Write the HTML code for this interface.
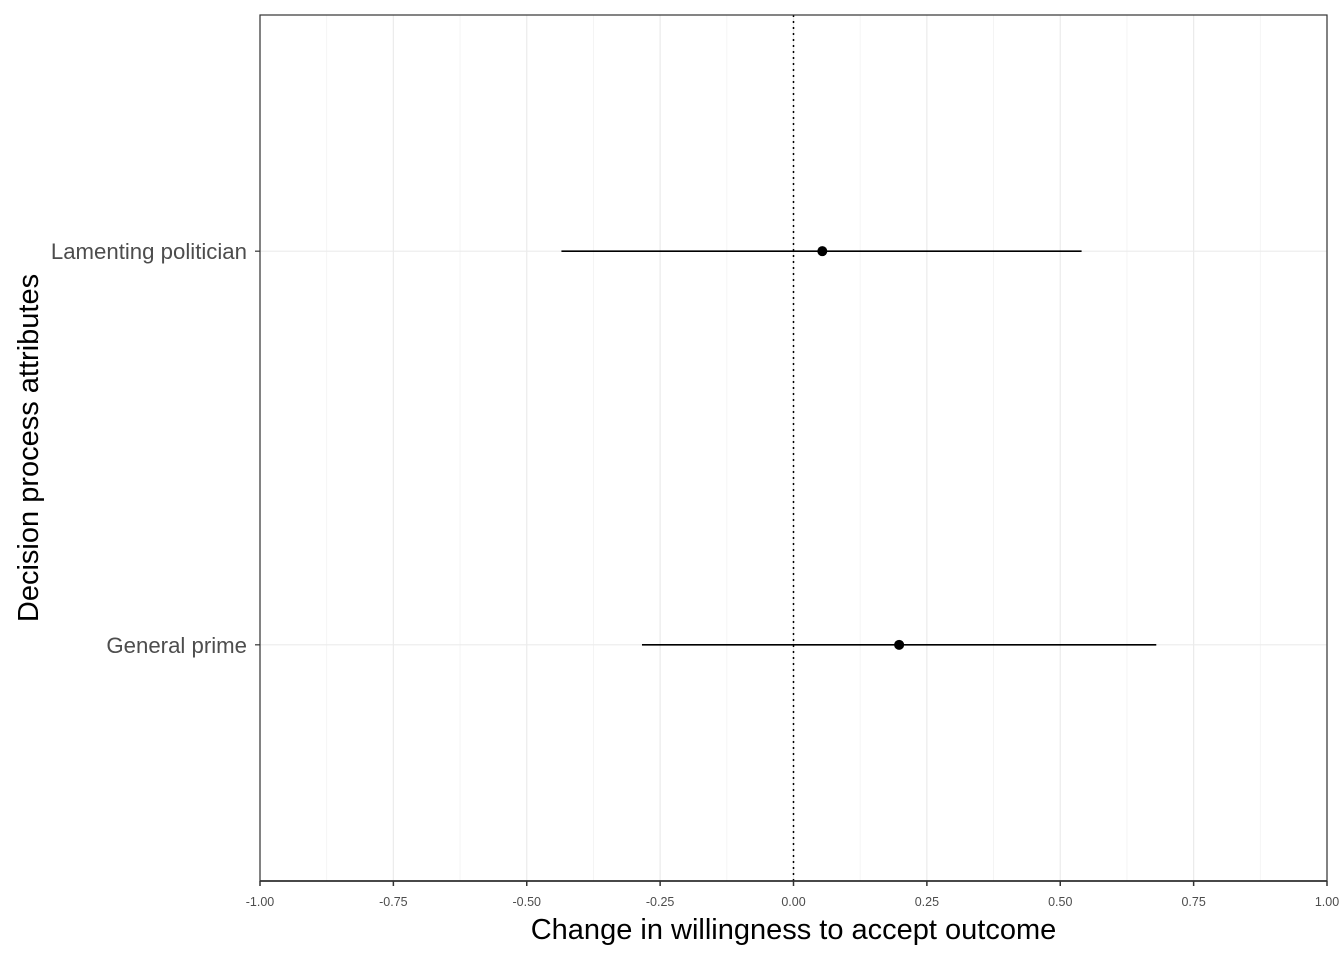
<!DOCTYPE html>
<html><head><meta charset="utf-8"><style>
body{margin:0;background:#fff;}
svg{display:block;font-family:"Liberation Sans",Arial,sans-serif;}
</style></head><body>
<svg id="chart" width="1344" height="960" xmlns="http://www.w3.org/2000/svg"></svg>
<script>
const categories = ["General prime", "Lamenting politician"];
const estimates = [0.198, 0.054];
const lowerCI = [-0.284, -0.435];
const upperCI = [0.68, 0.54];
const xTicks = [-1, -0.75, -0.5, -0.25, 0, 0.25, 0.5, 0.75, 1];
const xTickLabels = ["-1.00","-0.75","-0.50","-0.25","0.00","0.25","0.50","0.75","1.00"];

const L=260,R=1327,T=15,B=881;
const xs=v=>L+(v+1)/2*(R-L);
const ys=i=>B-(i+1-0.4)/2.2*(B-T);
const svg=document.getElementById('chart');
const NS="http://www.w3.org/2000/svg";
function el(tag,attrs,parent){const e=document.createElementNS(NS,tag);for(const k in attrs)e.setAttribute(k,attrs[k]);(parent||svg).appendChild(e);return e;}

for(let i=0;i<xTicks.length-1;i++){
  const m=(xTicks[i]+xTicks[i+1])/2;
  const g=el('line',{x1:xs(m),x2:xs(m),y1:T,y2:B,stroke:'#f2f2f2','stroke-width':0.8});
  
  
}
xTicks.forEach(v=>{
  const g=el('line',{x1:xs(v),x2:xs(v),y1:T,y2:B,stroke:'#ebebeb','stroke-width':1.2});
  
  
});
categories.forEach((c,i)=>{
  const g=el('line',{x1:L,x2:R,y1:ys(i),y2:ys(i),stroke:'#ebebeb','stroke-width':1.2});
  
  
});
const z=el('line',{x1:xs(0),x2:xs(0),y1:T,y2:B,stroke:'#000','stroke-width':1.5,'stroke-dasharray':'2,4'});


categories.forEach((c,i)=>{
  const l=el('line',{x1:xs(lowerCI[i]),x2:xs(upperCI[i]),y1:ys(i),y2:ys(i),stroke:'#000','stroke-width':1.7});
  
  
  const p=el('circle',{cx:xs(estimates[i]),cy:ys(i),r:5,fill:'#000'});
  
  
});
const bd=el('rect',{x:L,y:T,width:R-L,height:B-T,fill:'none',stroke:'#333','stroke-width':1.2});


const ax=el('line',{x1:L,x2:R,y1:B,y2:B,stroke:'#333','stroke-width':1.8});


xTicks.forEach((v,i)=>{
  const t=el('line',{x1:xs(v),x2:xs(v),y1:B,y2:B+5,stroke:'#333','stroke-width':1.5});
  
  
  const tx=el('text',{x:xs(v),y:906,'text-anchor':'middle','font-size':12.5,fill:'#4d4d4d'});
  tx.textContent=xTickLabels[i];
  
  
});
categories.forEach((c,i)=>{
  const t=el('line',{x1:L-5,x2:L,y1:ys(i),y2:ys(i),stroke:'#333','stroke-width':1.2});
  
  
  const tx=el('text',{x:247,y:ys(i)+8,'text-anchor':'end','font-size':22.2,fill:'#4d4d4d'});
  tx.textContent=c;
  
  
});
const xt=el('text',{x:793.5,y:939,'text-anchor':'middle','font-size':29,fill:'#000'});
xt.textContent='Change in willingness to accept outcome';


const yt=el('text',{x:0,y:0,'text-anchor':'middle','font-size':29,fill:'#000',transform:'translate(38,448) rotate(-90)'});
yt.textContent='Decision process attributes';


</script>
</body></html>
